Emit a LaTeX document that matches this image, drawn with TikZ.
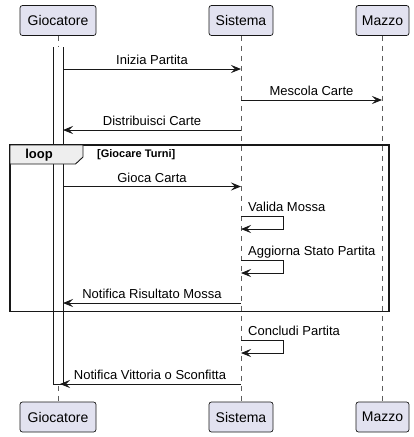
\documentclass[tikz,border=0pt]{standalone}
\usepackage{fontspec}
\setmainfont{Liberation Sans}
\usetikzlibrary{arrows.meta}
\definecolor{partfill}{HTML}{E2E2F0}
\definecolor{partdraw}{HTML}{181818}
\definecolor{tabfill}{HTML}{EEEEEE}
\begin{document}
\begin{tikzpicture}[x=1pt,y=-1pt,
  part/.style={draw=partdraw, fill=partfill, rounded corners=2.5pt, line width=0.7pt, minimum height=30pt, inner sep=0pt, font=\fontsize{14}{16}\selectfont},
  msg/.style={draw=partdraw, line width=0.8pt, -{Stealth[length=10pt,width=8pt,inset=4pt]}},
  lbl/.style={font=\fontsize{13}{15}\selectfont, inner sep=0pt, anchor=base},
  slbl/.style={font=\fontsize{13}{15}\selectfont, inner sep=0pt, anchor=base west},
  life/.style={draw=partdraw!70, dash pattern=on 5pt off 5pt, line width=0.6pt}]
\useasboundingbox (0,0) rectangle (414,437);

% participants
\node[part, minimum width=76pt] (gT) at (58,20.5) {Giocatore};
\node[part, minimum width=64pt] (sT) at (241,20.5) {Sistema};
\node[part, minimum width=53pt] (mT) at (382.5,20.5) {Mazzo};
\node[part, minimum width=76pt] (gB) at (58,417) {Giocatore};
\node[part, minimum width=64pt] (sB) at (241,417) {Sistema};
\node[part, minimum width=53pt] (mB) at (382.5,417) {Mazzo};

% lifelines
\draw[life] (gT.south) -- (gB.north);
\draw[life] (sT.south) -- (sB.north);
\draw[life] (mT.south) -- (mB.north);

% activation
\fill[white] (53,47) rectangle (63,384);
\draw[partdraw, line width=0.8pt] (53,47) |- (63,384) -- (63,47);

% coordinates on lifelines
\coordinate (g1) at (63,69);   \coordinate (s1) at (241,69);
\coordinate (s2) at (241,100); \coordinate (m2) at (382,100);
\coordinate (s3) at (241,130); \coordinate (g3) at (63,130);
\coordinate (g4) at (63,186.5);\coordinate (s4) at (241,186.5);
\coordinate (s5a) at (241,216.5);\coordinate (s5b) at (241,229);
\coordinate (s6a) at (241,260.5);\coordinate (s6b) at (241,273);
\coordinate (s7) at (241,303); \coordinate (g7) at (63,303);
\coordinate (s8a) at (241,340);\coordinate (s8b) at (241,353);
\coordinate (s9) at (241,384); \coordinate (g9) at (60,384);

% loop frame
\draw[partdraw, line width=1.4pt] (10,145) rectangle (389,311.5);
\draw[partdraw, fill=tabfill, line width=0.9pt] (10,145) -- (83,145) -- (83,157) -- (75.5,164) -- (10,164) -- cycle;
\node[font=\fontsize{13}{15}\selectfont\bfseries, inner sep=0pt] (looplbl) at (39,155) {loop};
\node[font=\fontsize{11}{13}\selectfont\bfseries, inner sep=0pt, anchor=west] (loopcond) at (97,155) {[Giocare Turni]};

% messages
\draw[msg] (g1) -- (s1);
\node[lbl] (t1) at (152,64.5) {Inizia Partita};
\draw[msg] (s2) -- (m2);
\node[lbl] (t2) at (311.5,95.5) {Mescola Carte};
\draw[msg] (s3) -- (g3);
\node[lbl] (t3) at (152,125.5) {Distribuisci Carte};
\draw[msg] (g4) -- (s4);
\node[lbl] (t4) at (152,182) {Gioca Carta};
\draw[msg] (s5a) -- (283,216.5) -- (283,229) -- (s5b);
\node[slbl] (t5) at (248,211.5) {Valida Mossa};
\draw[msg] (s6a) -- (283,260.5) -- (283,273) -- (s6b);
\node[slbl] (t6) at (248,255.5) {Aggiorna Stato Partita};
\draw[msg] (s7) -- (g7);
\node[lbl] (t7) at (152,298.5) {Notifica Risultato Mossa};
\draw[msg] (s8a) -- (283,340) -- (283,353) -- (s8b);
\node[slbl] (t8) at (248,335) {Concludi Partita};
\draw[msg] (s9) -- (g9);
\node[lbl] (t9) at (150,379.5) {Notifica Vittoria o Sconfitta};
\end{tikzpicture}
\end{document}
